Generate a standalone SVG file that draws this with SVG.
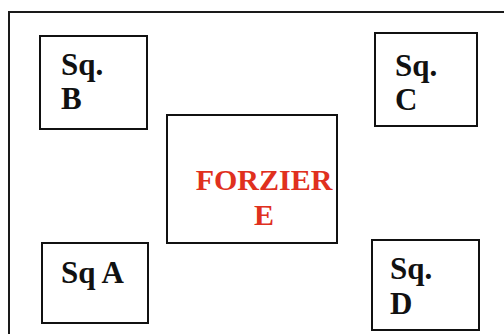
<svg xmlns="http://www.w3.org/2000/svg" width="504" height="334" viewBox="0 0 504 334">
  <style>
    .box { fill: #ffffff; stroke: #111111; stroke-width: 2; }
    .frame { fill: none; stroke: #1a1a1a; stroke-width: 2; }
    .lbl { font-family: "Liberation Serif", "Times New Roman", serif; font-weight: bold; font-size: 31px; fill: #111111; }
    .red { fill: #e0301e; font-size: 30px; }
  </style>
  <rect width="504" height="334" fill="#ffffff"/>
  <!-- outer frame, open on the right and bottom -->
  <path class="frame" d="M9,334 V12 H504"/>
  <g id="connectors"/>
  <g id="sqB">
    <rect class="box" x="40" y="36" width="107" height="93"/>
    <text class="lbl" x="61" y="75">Sq.</text>
    <text class="lbl" x="61" y="109">B</text>
  </g>
  <g id="sqC">
    <rect class="box" x="375" y="33" width="102" height="93"/>
    <text class="lbl" x="395" y="76">Sq.</text>
    <text class="lbl" x="395" y="110">C</text>
  </g>
  <g id="forzierE">
    <rect class="box" x="167" y="115" width="170" height="128"/>
    <text class="lbl red" x="264" y="190" text-anchor="middle">FORZIER</text>
    <text class="lbl red" x="264" y="225" text-anchor="middle">E</text>
  </g>
  <g id="sqA">
    <rect class="box" x="42" y="243" width="106" height="80"/>
    <text class="lbl" x="61" y="283">Sq A</text>
  </g>
  <g id="sqD">
    <rect class="box" x="372" y="240" width="107" height="90"/>
    <text class="lbl" x="390" y="279">Sq.</text>
    <text class="lbl" x="390" y="314">D</text>
  </g>
</svg>
